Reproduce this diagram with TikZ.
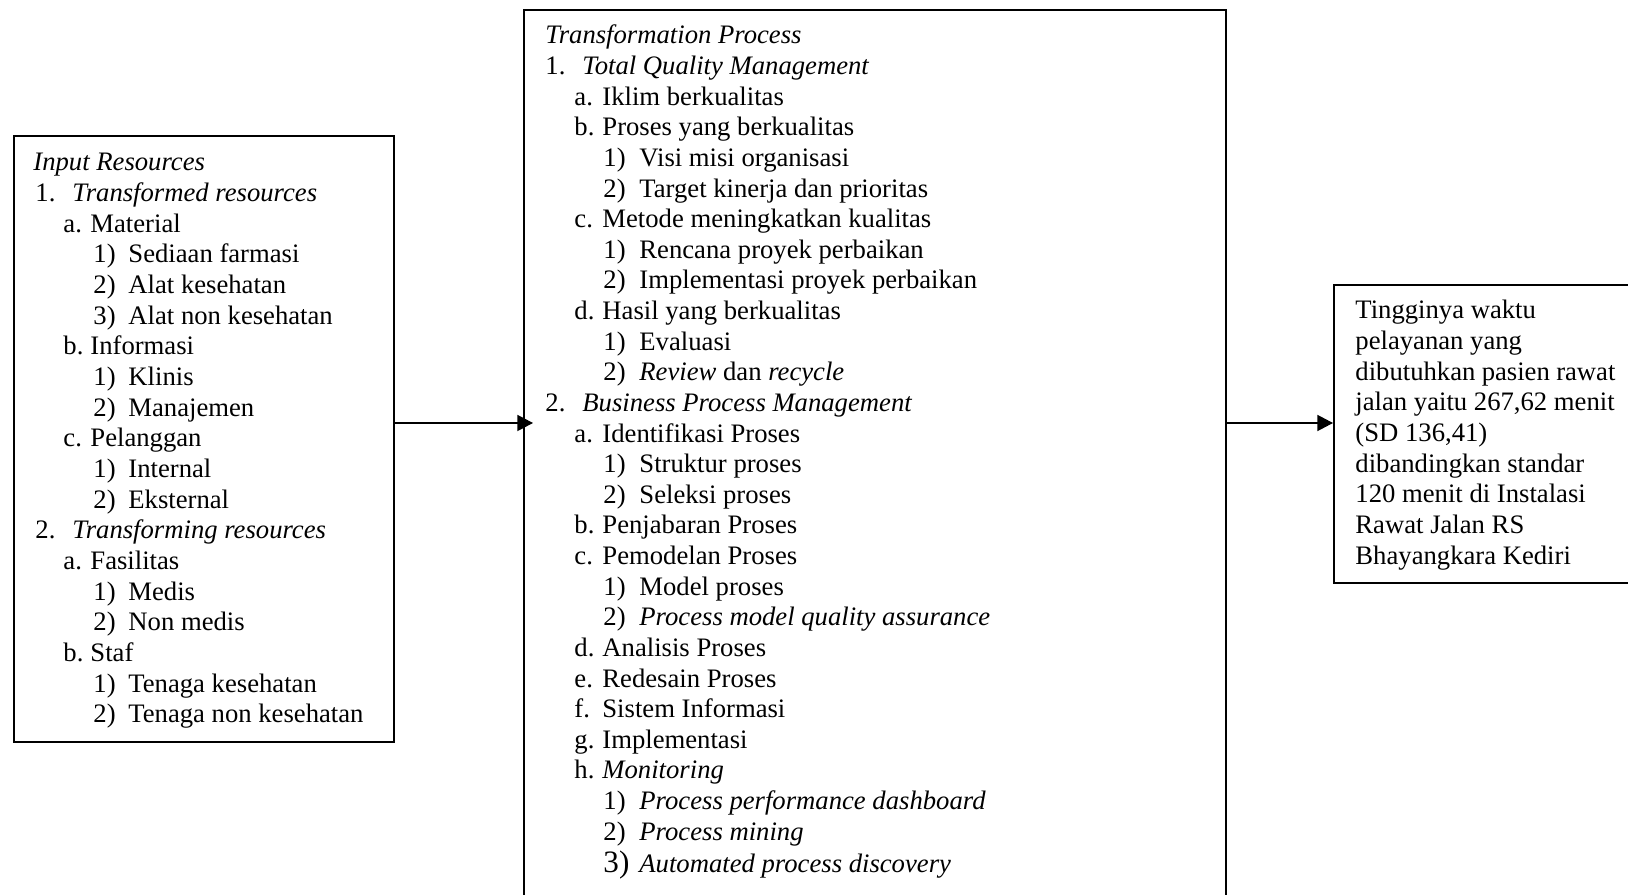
\documentclass[tikz,border=0pt]{standalone}
\usepackage{fontspec}
\setmainfont{Liberation Serif}
\usetikzlibrary{arrows.meta}
\newlength\px \setlength\px{0.45pt}
\newcommand\lin[4]{\hspace*{#1\px}\makebox[#2\px][l]{#3}#4\par}
\newcommand\ttl[1]{#1\par}
\tikzset{
  boxnode/.style={draw, line width=0.9pt, inner sep=0pt, anchor=north west, rectangle},
  txtnode/.style={inner sep=0pt, anchor=base west, font=\fontsize{12}{13.8}\selectfont},
  arr/.style={line width=0.6pt, -{Triangle[length=7pt,width=7.2pt]}}
}
\begin{document}
\begin{tikzpicture}[x=0.45pt,y=-0.45pt]
\useasboundingbox (0,0) rectangle (1628,895);
\clip (0,0) rectangle (1628,895);
\fill[white] (0,0) rectangle (1628,895);
% boxes
\node[boxnode, minimum width=380\px, minimum height=606\px] (lb) at (13,135) {};
\node[boxnode, minimum width=702\px, minimum height=900\px] (mb) at (523,9) {};
\node[boxnode, minimum width=320\px, minimum height=298\px] (rb) at (1333,284) {};
% texts
\node[txtnode] (lt) at (33,171) {\parbox[t]{370\px}{\fontsize{12}{13.8}\selectfont\parindent=0pt
\ttl{\textit{Input Resources}}
\lin{2}{37}{1.}{\textit{Transformed resources}}
\lin{30}{27}{a.}{Material}
\lin{60}{35}{1)}{Sediaan farmasi}
\lin{60}{35}{2)}{Alat kesehatan}
\lin{60}{35}{3)}{Alat non kesehatan}
\lin{30}{27}{b.}{Informasi}
\lin{60}{35}{1)}{Klinis}
\lin{60}{35}{2)}{Manajemen}
\lin{30}{27}{c.}{Pelanggan}
\lin{60}{35}{1)}{Internal}
\lin{60}{35}{2)}{Eksternal}
\lin{2}{37}{2.}{\textit{Transforming resources}}
\lin{30}{27}{a.}{Fasilitas}
\lin{60}{35}{1)}{Medis}
\lin{60}{35}{2)}{Non medis}
\lin{30}{27}{b.}{Staf}
\lin{60}{35}{1)}{Tenaga kesehatan}
\lin{60}{35}{2)}{Tenaga non kesehatan}}};
\node[txtnode] (mt) at (545,44) {\parbox[t]{670\px}{\fontsize{12}{13.78}\selectfont\parindent=0pt
\ttl{\textit{Transformation Process}}
\lin{0}{37}{1.}{\textit{Total Quality Management}}
\lin{29}{28}{a.}{Iklim berkualitas}
\lin{29}{28}{b.}{Proses yang berkualitas}
\lin{58}{36}{1)}{Visi misi organisasi}
\lin{58}{36}{2)}{Target kinerja dan prioritas}
\lin{29}{28}{c.}{Metode meningkatkan kualitas}
\lin{58}{36}{1)}{Rencana proyek perbaikan}
\lin{58}{36}{2)}{Implementasi proyek perbaikan}
\lin{29}{28}{d.}{Hasil yang berkualitas}
\lin{58}{36}{1)}{Evaluasi}
\lin{58}{36}{2)}{\textit{Review} dan \textit{recycle}}
\lin{0}{37}{2.}{\textit{Business Process Management}}
\lin{29}{28}{a.}{Identifikasi Proses}
\lin{58}{36}{1)}{Struktur proses}
\lin{58}{36}{2)}{Seleksi proses}
\lin{29}{28}{b.}{Penjabaran Proses}
\lin{29}{28}{c.}{Pemodelan Proses}
\lin{58}{36}{1)}{Model proses}
\lin{58}{36}{2)}{\textit{Process model quality assurance}}
\lin{29}{28}{d.}{Analisis Proses}
\lin{29}{28}{e.}{Redesain Proses}
\lin{29}{28}{f.}{Sistem Informasi}
\lin{29}{28}{g.}{Implementasi}
\lin{29}{28}{h.}{\textit{Monitoring}}
\lin{58}{36}{1)}{\textit{Process performance dashboard}}
\lin{58}{36}{2)}{\textit{Process mining}}
\vspace*{0.6pt}
\lin{58}{36}{{\fontsize{14}{13.8}\selectfont 3)}}{\textit{Automated process discovery}}}};
\node[txtnode] (rt) at (1355,319) {\parbox[t]{260\px}{\fontsize{12}{13.8}\selectfont\parindent=0pt
\ttl{Tingginya waktu}
\ttl{pelayanan yang}
\ttl{dibutuhkan pasien rawat}
\ttl{jalan yaitu 267,62 menit}
\ttl{(SD 136,41)}
\ttl{dibandingkan standar}
\ttl{120 menit di Instalasi}
\ttl{Rawat Jalan RS}
\ttl{Bhayangkara Kediri}}};
% connectors
\coordinate (ay) at (0,423);
\draw[arr, shorten >=-10\px] (lb.east |- ay) -- (mb.west |- ay);
\draw[arr] (mb.east |- ay) -- (rb.west |- ay);
\end{tikzpicture}
\end{document}
